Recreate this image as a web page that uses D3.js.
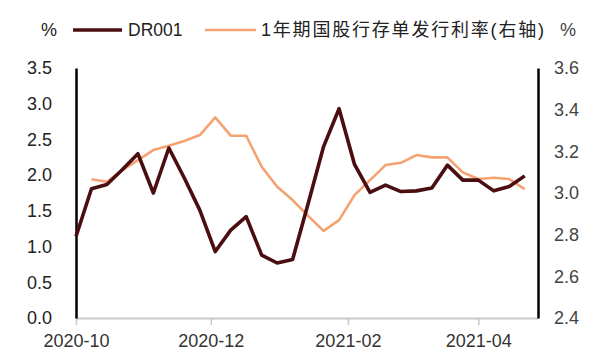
<!DOCTYPE html>
<html>
<head>
<meta charset="utf-8">
<script src="https://cdn.jsdelivr.net/npm/d3@7"></script>
<style>
  html, body { margin: 0; padding: 0; background: #fff; }
  svg { display: block; }
  text { font-family: "Liberation Sans", Arial, "Noto Sans CJK SC", sans-serif; }
</style>
</head>
<body>
<svg id="chart" width="600" height="364"></svg>
<script>
// ---- data ----
const dates = ["2020-10-01","2020-10-08","2020-10-15","2020-10-22","2020-10-29",
  "2020-11-05","2020-11-12","2020-11-19","2020-11-26","2020-12-03",
  "2020-12-10","2020-12-17","2020-12-24","2020-12-31","2021-01-07",
  "2021-01-14","2021-01-21","2021-01-28","2021-02-04","2021-02-11",
  "2021-02-18","2021-02-25","2021-03-04","2021-03-11","2021-03-18",
  "2021-03-25","2021-04-01","2021-04-08","2021-04-15","2021-04-22"];
const dr001 = [1.14,1.81,1.87,2.08,2.30,1.75,2.38,1.96,1.51,0.93,
  1.23,1.42,0.88,0.77,0.82,1.60,2.40,2.93,2.15,1.76,
  1.86,1.77,1.78,1.82,2.14,1.93,1.93,1.78,1.84,1.99];
const ncd = [null,3.066,3.054,3.11,3.158,3.206,3.227,3.25,3.278,3.363,
  3.275,3.275,3.126,3.030,2.966,2.89,2.818,2.870,2.99,3.062,
  3.134,3.145,3.182,3.171,3.171,3.099,3.067,3.073,3.067,3.019];
const xTickLabels = ["2020-10-01","2020-12-01","2021-02-01","2021-04-01"];
const leftTicks = [0,0.5,1.0,1.5,2.0,2.5,3.0,3.5];
const rightTicks = [2.4,2.6,2.8,3.0,3.2,3.4,3.6];
const seriesNames = ["DR001","1年期国股行存单发行利率(右轴)"];

// ---- layout ----
const parse = d3.timeParse("%Y-%m-%d");
const svg = d3.select("#chart");
const L = 76, R = 538, T = 68, B = 318;
const x = d3.scaleTime().domain([parse("2020-10-01"), parse("2021-04-28")]).range([L, R]);
const yL = d3.scaleLinear().domain([0, 3.5]).range([B, T]);
const yR = d3.scaleLinear().domain([2.4, 3.6]).range([B, T]);
const cDR = "#4a0e10", cNCD = "#f5a273";

// bottom axis
const xAxis = d3.axisBottom(x).tickValues(xTickLabels.map(parse))
  .tickFormat(d3.timeFormat("%Y-%m")).tickSize(7).tickSizeOuter(0).tickPadding(9);
const gx = svg.append("g").attr("transform", `translate(0,${B})`).call(xAxis);
gx.select(".domain").attr("stroke", "#c8c8c8").attr("stroke-width", 2);
gx.selectAll(".tick line").attr("stroke", "#c8c8c8").attr("stroke-width", 1.5);
gx.selectAll(".tick text").attr("font-size", 18).attr("fill", "#333")
  .attr("font-family", "'Liberation Sans', Arial, sans-serif");

// left axis
const gl = svg.append("g").attr("transform", `translate(${L},0)`)
  .call(d3.axisLeft(yL).tickValues(leftTicks).tickFormat(d3.format(".1f"))
    .tickSize(0).tickPadding(24));
gl.select(".domain").attr("stroke", "#000").attr("stroke-width", 2.5);
gl.selectAll(".tick text").attr("font-size", 18).attr("fill", "#222")
  .attr("font-family", "'Liberation Sans', Arial, sans-serif");

// right axis
const gr = svg.append("g").attr("transform", `translate(${R},0)`)
  .call(d3.axisRight(yR).tickValues(rightTicks).tickFormat(d3.format(".1f"))
    .tickSize(0).tickPadding(16));
gr.select(".domain").attr("stroke", "#000").attr("stroke-width", 2.5);
gr.selectAll(".tick text").attr("font-size", 18).attr("fill", "#444")
  .attr("font-family", "'Liberation Sans', Arial, sans-serif");

// lines
const ncdData = dates.map((d, i) => ({ d: parse(d), v: ncd[i] }));
const drData = dates.map((d, i) => ({ d: parse(d), v: dr001[i] }));
svg.append("path").datum(ncdData)
  .attr("fill", "none").attr("stroke", cNCD).attr("stroke-width", 2.6)
  .attr("stroke-linejoin", "round")
  .attr("d", d3.line().defined(p => p.v != null).x(p => x(p.d)).y(p => yR(p.v)));
svg.append("path").datum(drData)
  .attr("fill", "none").attr("stroke", cDR).attr("stroke-width", 3.6)
  .attr("stroke-linejoin", "round")
  .attr("d", d3.line().x(p => x(p.d)).y(p => yL(p.v)));

// legend & units
const ly = 30;
svg.append("text").attr("x", 49).attr("y", ly).attr("dy", "0.35em")
  .attr("text-anchor", "middle").attr("font-size", 18).attr("fill", "#222").text("%");
svg.append("line").attr("x1", 73).attr("x2", 122).attr("y1", ly).attr("y2", ly)
  .attr("stroke", cDR).attr("stroke-width", 3.6);
svg.append("text").attr("x", 128).attr("y", ly).attr("dy", "0.35em")
  .attr("font-size", 17.5).attr("fill", "#222").text(seriesNames[0]);
svg.append("line").attr("x1", 205).attr("x2", 256).attr("y1", ly).attr("y2", ly)
  .attr("stroke", cNCD).attr("stroke-width", 2.6);
svg.append("text").attr("x", 261).attr("y", ly).attr("dy", "0.35em")
  .attr("font-size", 18).attr("letter-spacing", "1.8px").attr("fill", "#222")
  .attr("font-family", "'Liberation Sans', 'Noto Sans CJK SC', sans-serif")
  .text(seriesNames[1]);
svg.append("text").attr("x", 568).attr("y", ly).attr("dy", "0.35em")
  .attr("text-anchor", "middle").attr("font-size", 18).attr("fill", "#444").text("%");
</script>
</body>
</html>
